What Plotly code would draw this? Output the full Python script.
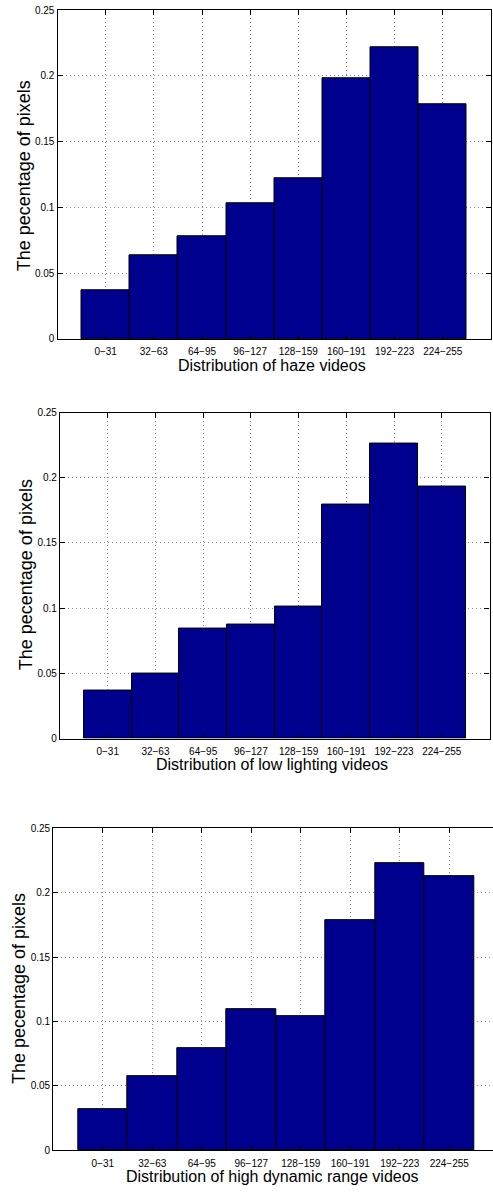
import plotly.graph_objects as go

# Intensity bins shared by all three histograms
bins = ["0−31", "32−63", "64−95", "96−127", "128−159", "160−191", "192−223", "224−255"]
bin_pos = [1, 2, 3, 4, 5, 6, 7, 8]

# Fraction of pixels falling in each bin
haze = [0.0369, 0.0637, 0.0780, 0.1032, 0.1220, 0.1983, 0.2221, 0.1787]
low_light = [0.0370, 0.0499, 0.0841, 0.0874, 0.1011, 0.1791, 0.2262, 0.1935]
hdr = [0.0322, 0.0575, 0.0797, 0.1093, 0.1040, 0.1785, 0.2225, 0.2125]

y_ticks = [0, 0.05, 0.1, 0.15, 0.2, 0.25]
y_ticktext = ["0", "0.05", "0.1", "0.15", "0.2", "0.25"]

x_titles = ["Distribution of haze videos",
            "Distribution of low lighting videos",
            "Distribution of high dynamic range videos"]
y_title = "The pecentage of pixels"

W, H = 493, 1194
BAR = "#00008F"
FONT = "Liberation Sans, Arial, Helvetica, sans-serif"

# panel geometry in pixels: left, right, top, bottom, x-range max, mirror y
panels = [
    dict(l=57.5, r=491.0, t=4.3, b=336.3, xmax=9.0, ymirror=True,
         xt=(272, 362.7), yt=(24, 172)),
    dict(l=60.0, r=489.5, t=410.7, b=740.0, xmax=9.0, ymirror=True,
         xt=(272, 766.7), yt=(26, 575)),
    dict(l=53.3, r=493.0, t=830.5, b=1156.0, xmax=8.883, ymirror=False,
         xt=(272, 1182.7), yt=(19, 993)),
]
series = [haze, low_light, hdr]

fig = go.Figure()
annotations = []

for i, (p, vals) in enumerate(zip(panels, series), start=1):
    xa = "x" if i == 1 else f"x{i}"
    ya = "y" if i == 1 else f"y{i}"
    fig.add_trace(go.Bar(
        x=bin_pos, y=vals, width=1.0,
        marker=dict(color=BAR, line=dict(color="black", width=1)),
        xaxis=xa, yaxis=ya, showlegend=False, hoverinfo="y",
    ))
    common = dict(
        showline=True, linecolor="black", linewidth=1.3,
        ticks="inside", ticklen=5, tickcolor="black", tickwidth=1,
        showgrid=True, gridcolor="#8a8a8a", gridwidth=1, griddash="1px,3px",
        zeroline=False,
    )
    fig.layout[f"xaxis{'' if i == 1 else i}"] = dict(
        common,
        domain=[p["l"] / W, min(p["r"] / W, 1.0)],
        range=[0, p["xmax"]],
        tickmode="array", tickvals=bin_pos, ticktext=bins,
        anchor=ya, mirror="ticks",
        tickfont=dict(family=FONT, size=10, color="black"),
        ticklabelstandoff=3,
    )
    fig.layout[f"yaxis{'' if i == 1 else i}"] = dict(
        common,
        domain=[1 - p["b"] / H, 1 - p["t"] / H],
        range=[0, 0.25],
        tickmode="array", tickvals=y_ticks, ticktext=y_ticktext,
        anchor=xa, mirror="ticks" if p["ymirror"] else False,
        tickfont=dict(family=FONT, size=10, color="black"),
        ticklabelstandoff=0,
    )
    annotations.append(dict(
        text=x_titles[i - 1], xref="paper", yref="paper",
        x=p["xt"][0] / W, y=1 - p["xt"][1] / H,
        xanchor="center", yanchor="middle", showarrow=False,
        font=dict(family=FONT, size=16, color="black"),
    ))
    annotations.append(dict(
        text=y_title, xref="paper", yref="paper",
        x=p["yt"][0] / W, y=1 - p["yt"][1] / H, textangle=-90,
        xanchor="center", yanchor="middle", showarrow=False,
        font=dict(family=FONT, size=18, color="black"),
    ))

fig.update_layout(
    width=W, height=H,
    margin=dict(l=0, r=0, t=0, b=0),
    paper_bgcolor="white", plot_bgcolor="white",
    annotations=annotations,
    bargap=0,
)

fig.write_html("out.html")
